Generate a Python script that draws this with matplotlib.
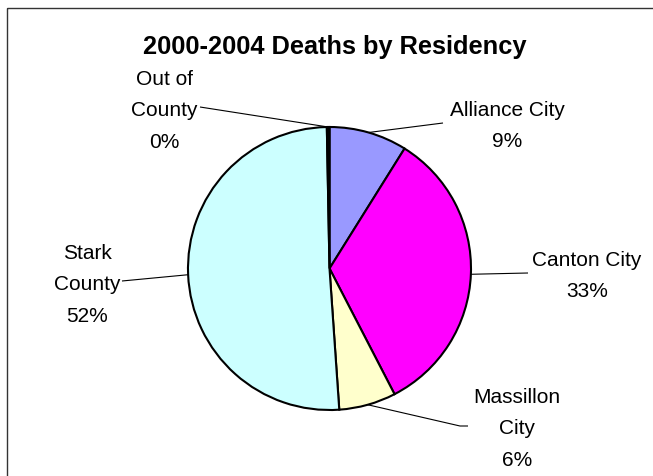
import matplotlib
matplotlib.use("Agg")
import matplotlib.pyplot as plt
from matplotlib.patches import Rectangle
import numpy as np

# ---- data ----
title = "2000-2004 Deaths by Residency"
categories = ["Alliance City", "Canton City", "Massillon\nCity", "Stark\nCounty", "Out of\nCounty"]
values = [8.9, 33.5, 6.5, 50.8, 0.3]
pct_labels = ["9%", "33%", "6%", "52%", "0%"]
colors = ["#9999FF", "#FF00FF", "#FFFFCC", "#CCFFFF", "#000000"]

# ---- layout (pixel coordinates, y downward) ----
W, H = 653, 477
center = (329.5, 269.5)
radius = 141.5
label_pos = [(507, 126), (587, 276), (517, 429), (87, 285), (164, 111)]
leader_end = [[(443, 124)], [(528, 274)], [(460, 427), (468, 427)], [(122, 282)], [(200, 108)]]

fig = plt.figure(figsize=(W / 100, H / 100), dpi=100)
ax = fig.add_axes([0, 0, 1, 1])

wedges, _ = ax.pie(values, colors=colors, startangle=-90, counterclock=True,
                   center=center, radius=radius,
                   wedgeprops=dict(edgecolor="black", linewidth=1.5))
ax.set_xlim(0, W)
ax.set_ylim(H, 0)
ax.set_aspect("equal")
ax.axis("off")

font = "Liberation Sans"
for w, name, pct, (lx, ly), ends in zip(wedges, categories, pct_labels, label_pos, leader_end):
    mid = np.deg2rad((w.theta1 + w.theta2) / 2)
    ax0 = center[0] + radius * np.cos(mid)
    ay0 = center[1] + radius * np.sin(mid)
    xs = [ax0] + [p[0] for p in ends]
    ys = [ay0] + [p[1] for p in ends]
    ax.plot(xs, ys, color="black", lw=0.8, solid_capstyle="butt")
    ax.text(lx, ly, f"{name}\n{pct}", ha="center", va="center", fontsize=15,
            family=font, linespacing=1.85, color="black")

ax.text(334.5, 54, title, ha="center", va="baseline", fontsize=18.3,
        fontweight="bold", family=font, color="black")

ax.add_patch(Rectangle((7, 9), 800, 600, fill=False, lw=1.0, ec="#333333", clip_on=True))

fig.savefig("out.png", dpi=100, facecolor="white")
